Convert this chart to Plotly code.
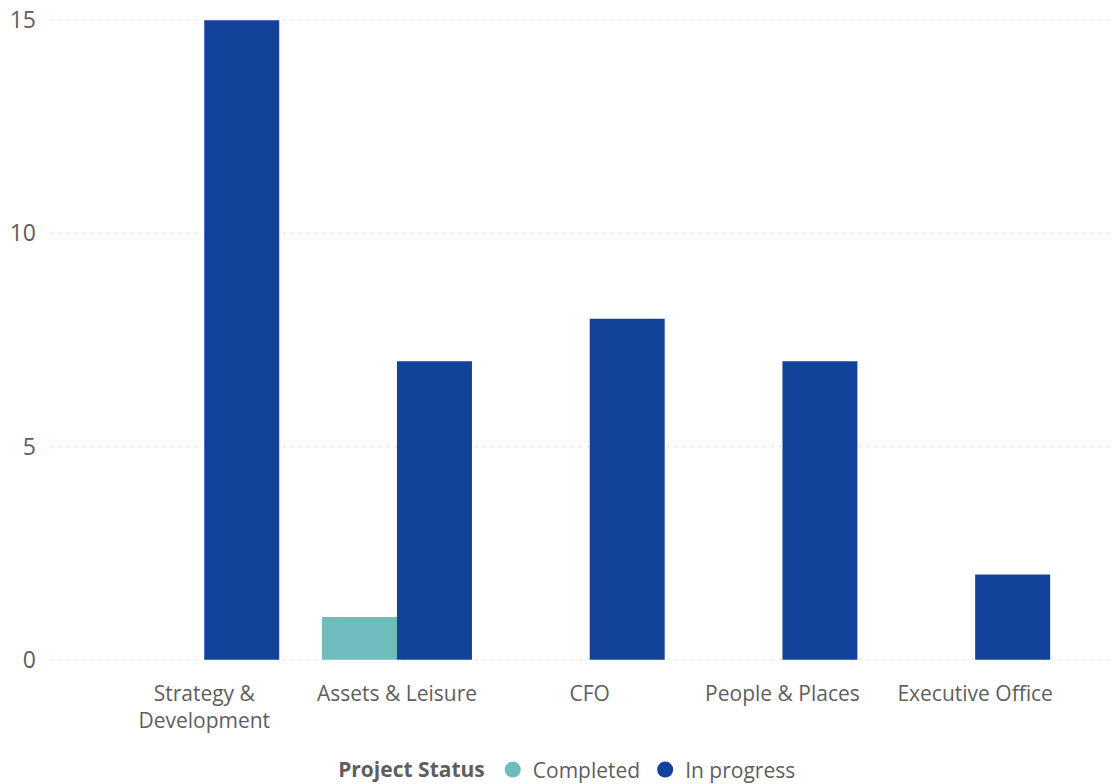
import plotly.graph_objects as go

categories = ["Strategy &<br>Development", "Assets & Leisure", "CFO", "People & Places", "Executive Office"]
completed = [None, 1, None, None, None]
in_progress = [15, 7, 8, 7, 2]
y_ticks = [0, 5, 10, 15]

teal = "#70BBBB"
navy = "#13429A"
text_gray = "#605E5C"
font_family = "Segoe UI, Open Sans, Noto Sans, sans-serif"

fig = go.Figure()
fig.add_trace(go.Bar(x=categories, y=completed, name="Completed",
                     marker=dict(color=teal, line=dict(width=0)), showlegend=False))
fig.add_trace(go.Bar(x=categories, y=in_progress, name="In progress",
                     marker=dict(color=navy, line=dict(width=0)), showlegend=False))

# circular legend markers
for name, color in [("Completed", teal), ("In progress", navy)]:
    fig.add_trace(go.Scatter(x=[None], y=[None], mode="markers", name=name,
                             marker=dict(color=color, size=16, symbol="circle")))

fig.update_layout(
    width=1115, height=784,
    margin=dict(l=52, r=3, t=19, b=123, autoexpand=False),
    paper_bgcolor="white", plot_bgcolor="white",
    barmode="group", bargap=0.222, bargroupgap=0,
    font=dict(family=font_family, color=text_gray, size=21),
    showlegend=True,
    legend=dict(
        orientation="h", xref="container", x=0.51, xanchor="center",
        yref="container", y=0.018, yanchor="middle",
        title=dict(text="<b>Project Status</b>", font=dict(size=21, color=text_gray)),
        font=dict(size=21, color=text_gray),
        itemsizing="trace", itemwidth=30, tracegroupgap=0,
    ),
    xaxis=dict(
        type="category", range=[-0.79, 4.71],
        showgrid=False, showline=False, zeroline=False,
        ticks="", tickfont=dict(size=21, color=text_gray),
        tickangle=0, automargin=False,
        ticklabelstandoff=18,
    ),
    yaxis=dict(
        range=[-0.03, 15.03], tickvals=y_ticks,
        showgrid=True, gridcolor="#BDBDBD", griddash="1px,7px", gridwidth=1,
        zeroline=False, showline=False, ticks="", automargin=False,
        tickfont=dict(size=23, color=text_gray),
        ticklabelstandoff=15,
    ),
)

fig.write_html("out.html")
